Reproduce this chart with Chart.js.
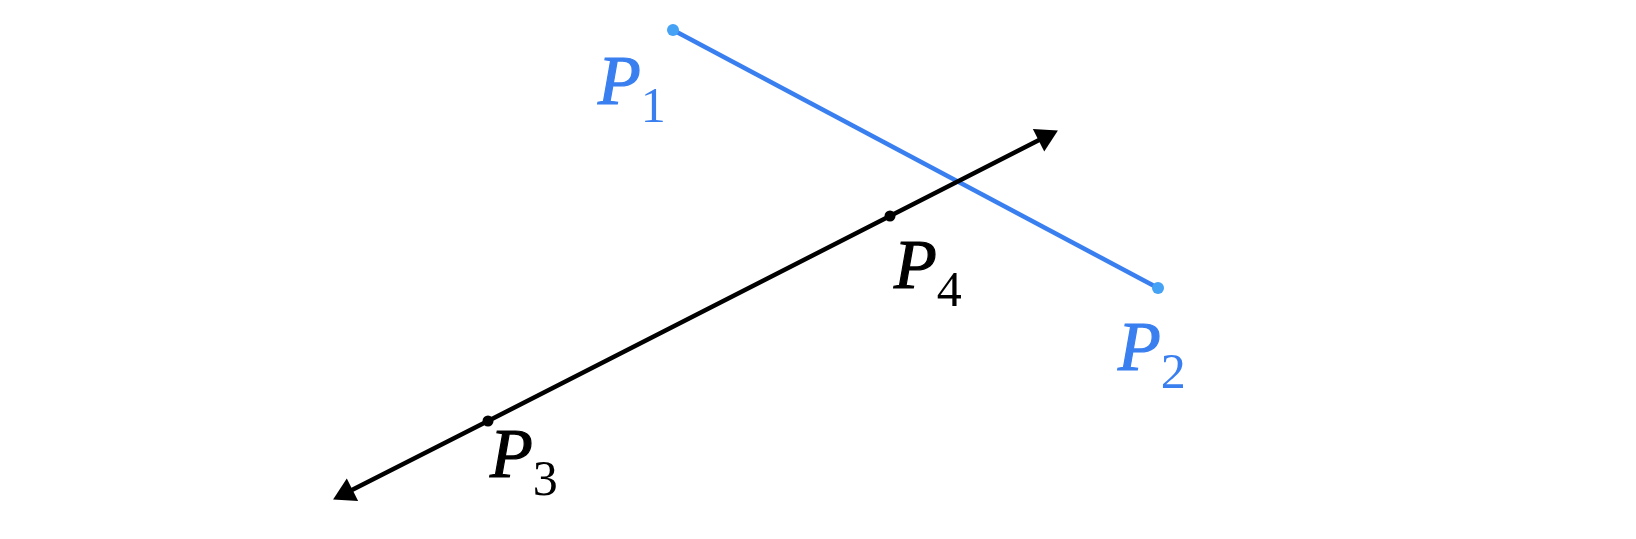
<!DOCTYPE html>
<html><head><meta charset="utf-8">
<script src="https://cdn.jsdelivr.net/npm/chart.js@4"></script>
<style>html,body{margin:0;padding:0;background:#fff}#wrap{width:1636px;height:539px;position:relative}</style>
</head><body><div id="wrap"><canvas id="c"></canvas></div>
<script>
// Diagram coordinates (x to the right, y upward)
const segmentX = [673, 1158];            // P1, P2
const segmentY = [509, 251];
const lineX = [346, 488, 890, 1045];     // arrow tail, P3, P4, arrow head
const lineY = [46, 118, 323, 402];
const pointLetters = ["P", "P", "P", "P"];
const pointSubscripts = ["1", "2", "3", "4"];
const labelAnchorX = [673, 1158, 488, 890];
const labelAnchorY = [509, 251, 118, 323];

// styles / offsets (pixels)
const BLUE = "#3a7ff0", BLUE_DOT = "#45a2f4", BLACK = "#000000";
const labelColors = [BLUE, BLUE, BLACK, BLACK];
const labelOffsets = [[-75, 74], [-40, 82], [2, 56], [4, 72]];

function toPts(xs, ys){ return xs.map((x,i)=>({x, y: ys[i]})); }
function isEnd(ctx){ return ctx.dataIndex === 0 || ctx.dataIndex === ctx.dataset.data.length - 1; }

function arrowRotation(ctx){
  if (!isEnd(ctx)) return 0;
  const i = ctx.dataIndex, data = ctx.dataset.data, n = data.length;
  const c = ctx.chart, sx = c.scales.x, sy = c.scales.y;
  const a = data[i], b = data[i === 0 ? 1 : n-2];
  const dx = sx.getPixelForValue(a.x) - sx.getPixelForValue(b.x);
  const dy = sy.getPixelForValue(a.y) - sy.getPixelForValue(b.y);
  return Math.atan2(dx, -dy) * 180 / Math.PI;
}

const labelPlugin = {
  id: 'ptLabels',
  afterDatasetsDraw(chart){
    const {ctx} = chart, sx = chart.scales.x, sy = chart.scales.y;
    ctx.save();
    ctx.textBaseline = 'alphabetic';
    ctx.textAlign = 'left';
    pointLetters.forEach((L, i) => {
      const x = sx.getPixelForValue(labelAnchorX[i]) + labelOffsets[i][0];
      const y = sy.getPixelForValue(labelAnchorY[i]) + labelOffsets[i][1];
      ctx.fillStyle = labelColors[i];
      ctx.strokeStyle = labelColors[i];
      ctx.lineWidth = 1.2;
      ctx.font = 'italic 70px "Liberation Serif", "DejaVu Serif", serif';
      ctx.fillText(L, x, y);
      ctx.strokeText(L, x, y);
      const w = ctx.measureText(L).width;
      ctx.font = '50px "Liberation Serif", "DejaVu Serif", serif';
      ctx.fillText(pointSubscripts[i], x + w, y + 18);
    });
    ctx.restore();
  }
};

new Chart(document.getElementById('c'), {
  type: 'scatter',
  data: {
    datasets: [
      {
        data: toPts(lineX, lineY),
        showLine: true,
        borderColor: BLACK,
        borderWidth: 4.5,
        borderCapStyle: 'butt',
        backgroundColor: BLACK,
        pointBackgroundColor: BLACK,
        pointBorderWidth: 0,
        pointStyle: ctx => isEnd(ctx) ? 'triangle' : 'circle',
        pointRadius: ctx => isEnd(ctx) ? 14.5 : 5.5,
        pointRotation: arrowRotation
      },
      {
        data: toPts(segmentX, segmentY),
        showLine: true,
        borderColor: BLUE,
        borderWidth: 4.5,
        backgroundColor: BLUE_DOT,
        pointBackgroundColor: BLUE_DOT,
        pointBorderWidth: 0,
        pointRadius: 6
      }
    ]
  },
  options: {
    responsive: true,
    maintainAspectRatio: false,
    animation: false,
    events: [],
    layout: { padding: 0, autoPadding: false },
    plugins: { legend: { display: false }, tooltip: { enabled: false }, title: { display: false } },
    scales: {
      x: { type: 'linear', min: 0, max: 1636, display: false },
      y: { type: 'linear', min: 0, max: 539, display: false }
    }
  },
  plugins: [labelPlugin]
});
</script>
</body></html>
